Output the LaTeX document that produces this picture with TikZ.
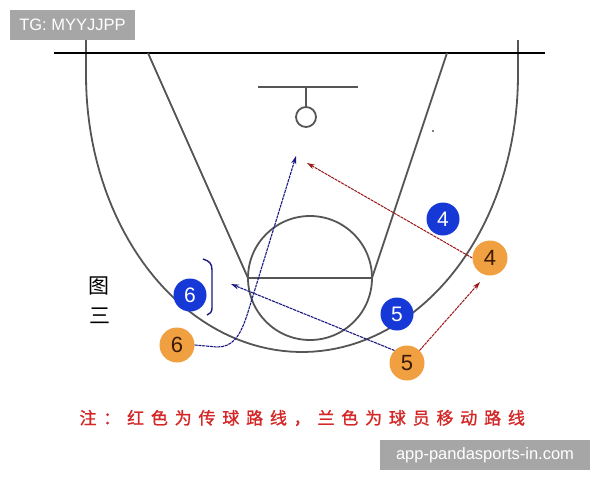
\documentclass[tikz,border=0pt]{standalone}
\usepackage{fontspec}
\setmainfont{Liberation Sans}
\newfontfamily\cjk{Noto Sans CJK SC}
\newfontfamily\cjkspaced[LetterSpace=40,FakeBold=1.2]{Noto Sans CJK SC}
\usetikzlibrary{arrows.meta}
\definecolor{courtgray}{HTML}{555555}
\definecolor{pblue}{HTML}{1538D6}
\definecolor{porange}{HTML}{F0A040}
\definecolor{numbrown}{HTML}{3A1A05}
\definecolor{navy}{HTML}{1A1A80}
\definecolor{darkred}{HTML}{9A1818}
\definecolor{notered}{HTML}{D42828}
\definecolor{wmgray}{HTML}{A6A6A6}
\tikzset{
  court/.style={draw=courtgray, line width=1.8pt},
  defender/.style={circle, fill=pblue, minimum size=33pt, inner sep=0pt, text=white, font=\fontsize{21}{21}\selectfont},
  attacker/.style={circle, fill=porange, minimum size=35pt, inner sep=0pt, text=numbrown, font=\fontsize{22}{22}\selectfont},
  moveline/.style={draw=navy, line width=1.1pt, dash pattern=on 3pt off 0.8pt},
  passline/.style={draw=darkred, line width=1.0pt, dash pattern=on 3pt off 0.8pt},
  movetip/.style={-{Stealth[length=8pt,width=5pt]}},
  wmbox/.style={fill=wmgray, text=white, inner sep=0pt, font=\fontsize{16.5}{16.5}\selectfont},
}
\begin{document}
\begin{tikzpicture}[x=1pt,y=-1pt]
\useasboundingbox (0,0) rectangle (600,480);
\fill[white] (0,0) rectangle (600,480);
% three-point arc
\draw[court] (86,40) -- (86,75)
  plot[domain=180:360, samples=90] ({302+216*cos(\x)},{75-277*sin(\x)})
  -- (518,40);
% baseline
\draw[black, line width=2.2pt] (54,53) -- (545,53);
% lane lines
\draw[court] (148,53) -- (248,278);
\draw[court] (447,53) -- (372,278);
% free-throw line
\draw[court] (248,278) -- (372,278);
% free-throw circle
\draw[court] (310,278) circle[radius=62];
% backboard and rim
\draw[court] (258,87) -- (358,87);
\draw[court] (306,87) -- (306,107);
\draw[court] (306,117) circle[radius=10];
\fill[black] (433,131) circle[radius=0.9];
% defenders
\node[defender] (d4) at (443,219) {4};
\node[defender] (d5) at (397,314) {5};
\node[defender] (d6) at (190,295) {6};
% attackers
\node[attacker] (a4) at (490,258) {4};
\node[attacker] (a5) at (407,363) {5};
\node[attacker] (a6) at (177,345) {6};
% coordinates
\coordinate (t6) at (296,156);
\coordinate (t5) at (231,284);
\coordinate (p4) at (307,163);
\coordinate (p5) at (480,282);
% movement lines
\draw[moveline, movetip] (a6.east) -- (217,347) .. controls (232,347) and (240,338) .. (248,312) -- (t6);
\draw[moveline, movetip] (a5.north west) -- (t5);
\draw[navy, line width=1.4pt] (203,259) .. controls (209,261) and (212,263) .. (212,270) -- (212,308) .. controls (212,312) and (210,314) .. (207,315);
% passing lines
\draw[passline, movetip] (a4.west) -- (p4);
\draw[passline, movetip] (a5.north east) -- (p5);
% labels
\node[font=\cjk\fontsize{21}{21}\selectfont] (lab1) at (99,286) {图};
\node[font=\cjk\fontsize{21}{21}\selectfont] (lab2) at (100,316) {三};
\node[text=notered, font=\cjkspaced\fontsize{17}{17}\selectfont, anchor=west] (note) at (76,418) {注：红色为传球路线，兰色为球员移动路线};
% watermarks
\node[wmbox, minimum width=125pt, minimum height=30pt] (wm1) at (72.5,25) {TG: MYYJJPP};
\node[wmbox, minimum width=210pt, minimum height=30pt] (wm2) at (485,455) {app-pandasports-in.com};
\end{tikzpicture}
\end{document}
